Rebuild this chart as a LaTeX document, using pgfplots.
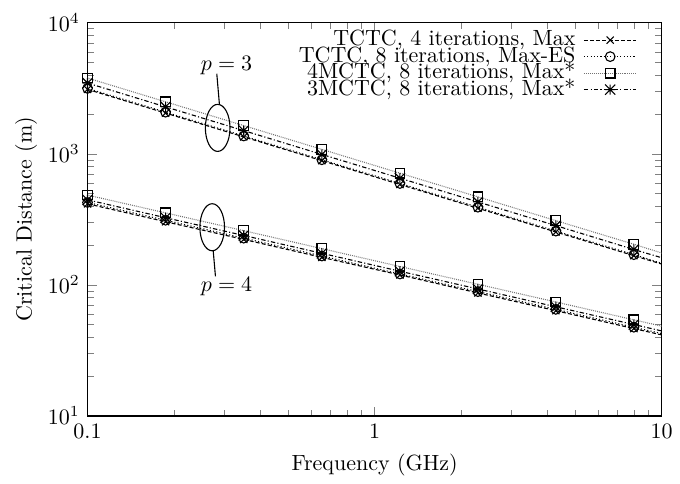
\documentclass[border=0pt]{standalone}
\usepackage{pgfplots}
\pgfplotsset{compat=1.18}

% gnuplot point type 3: plus and cross together
\pgfdeclareplotmark{xplus}{%
  \pgfpathmoveto{\pgfqpoint{-\pgfplotmarksize}{0pt}}%
  \pgfpathlineto{\pgfqpoint{\pgfplotmarksize}{0pt}}%
  \pgfpathmoveto{\pgfqpoint{0pt}{-\pgfplotmarksize}}%
  \pgfpathlineto{\pgfqpoint{0pt}{\pgfplotmarksize}}%
  \pgfpathmoveto{\pgfqpoint{-\pgfplotmarksize}{-\pgfplotmarksize}}%
  \pgfpathlineto{\pgfqpoint{\pgfplotmarksize}{\pgfplotmarksize}}%
  \pgfpathmoveto{\pgfqpoint{-\pgfplotmarksize}{\pgfplotmarksize}}%
  \pgfpathlineto{\pgfqpoint{\pgfplotmarksize}{-\pgfplotmarksize}}%
  \pgfusepathqstroke}

\pgfplotsset{
  s4max/.style={black, line width=0.5pt, dash pattern=on 1.8pt off 1pt,
    mark=x, mark size=2.3pt, mark options={solid}, mark indices={1,2,3,4,5,6,7,8}},
  s8es/.style={black, line width=0.5pt, dash pattern=on 0.5pt off 1pt,
    mark=o, mark size=2.2pt, mark options={solid}, mark indices={1,2,3,4,5,6,7,8}},
  s4mc/.style={black!55, line width=0.5pt, dash pattern=on 0.4pt off 0.5pt,
    mark=square, mark size=2.2pt, mark options={solid,black}, mark indices={1,2,3,4,5,6,7,8}},
  s3mc/.style={black, line width=0.5pt, dash pattern=on 2pt off 1pt on 0.5pt off 1pt,
    mark=xplus, mark size=2.3pt, mark options={solid}, mark indices={1,2,3,4,5,6,7,8}},
}

\begin{document}
\begin{tikzpicture}
\begin{axis}[
  scale only axis,
  width=261pt, height=178.8pt,
  xmode=log, ymode=log,
  xmin=0.1, xmax=10, ymin=10, ymax=10000,
  xtick={0.1,1,10}, xticklabels={0.1,1,10},
  xlabel={Frequency (GHz)},
  ylabel={Critical Distance (m)},
  ylabel style={yshift=-2pt},
  axis line style={line width=0.6pt},
  legend plot pos=right,
  legend cell align=right,
  legend style={draw=none, fill=none, inner sep=0pt, column sep=3pt,
    at={(rel axis cs:1,1)}, xshift=-11pt, yshift=-4pt, anchor=north east,
    nodes={inner sep=0.6pt, text height=5.7pt, text depth=0.6pt}},
  legend image code/.code={
    \draw[mark indices={2}] plot coordinates {(0cm,0cm) (0.42cm,0cm) (0.84cm,0cm)};},
]
% p = 3
\addplot[s4max] coordinates {(0.1,3100) (0.187,2042) (0.35,1345) (0.655,886) (1.225,583) (2.29,384) (4.28,253) (8.0,167) (10,144)};
\addplot[s8es] coordinates {(0.1,3150) (0.187,2075) (0.35,1366) (0.655,900) (1.225,593) (2.29,391) (4.28,257) (8.0,170) (10,146)};
\addplot[s4mc] coordinates {(0.1,3780) (0.187,2490) (0.35,1640) (0.655,1080) (1.225,711) (2.29,469) (4.28,309) (8.0,204) (10,175)};
\addplot[s3mc] coordinates {(0.1,3460) (0.187,2279) (0.35,1501) (0.655,988) (1.225,651) (2.29,429) (4.28,283) (8.0,186) (10,161)};
\legend{{TCTC, 4 iterations, Max},{TCTC, 8 iterations, Max-ES},{4MCTC, 8 iterations, Max*},{3MCTC, 8 iterations, Max*}}
% p = 4
\addplot[s4max, forget plot] coordinates {(0.1,415) (0.187,303) (0.35,222) (0.655,162) (1.225,119) (2.29,86.7) (4.28,63.5) (8.0,46.4) (10,41.5)};
\addplot[s8es, forget plot] coordinates {(0.1,425) (0.187,311) (0.35,227) (0.655,166) (1.225,121) (2.29,88.8) (4.28,65.0) (8.0,47.5) (10,42.5)};
\addplot[s4mc, forget plot] coordinates {(0.1,484) (0.187,354) (0.35,259) (0.655,189) (1.225,138) (2.29,101) (4.28,74.0) (8.0,54.1) (10,48.4)};
\addplot[s3mc, forget plot] coordinates {(0.1,445) (0.187,325) (0.35,238) (0.655,174) (1.225,127) (2.29,93.0) (4.28,68.0) (8.0,49.8) (10,44.5)};
% annotations
\draw[line width=0.5pt] (axis cs:0.284,1575) ellipse [x radius=5.6pt, y radius=10.7pt];
\draw[line width=0.5pt] (axis cs:0.288,2384) -- (axis cs:0.282,4074);
\node at (axis cs:0.305,4677) {$p=3$};
\draw[line width=0.5pt] (axis cs:0.2718,275) ellipse [x radius=5.6pt, y radius=10.7pt];
\draw[line width=0.5pt] (axis cs:0.274,182) -- (axis cs:0.279,116);
\node at (axis cs:0.305,97.6) {$p=4$};
\end{axis}
% room around the axis as in the reference
\path ([xshift=-39.8pt,yshift=-26pt]current axis.south west)
  rectangle ([xshift=5.8pt,yshift=10.3pt]current axis.north east);
\end{tikzpicture}
\end{document}
